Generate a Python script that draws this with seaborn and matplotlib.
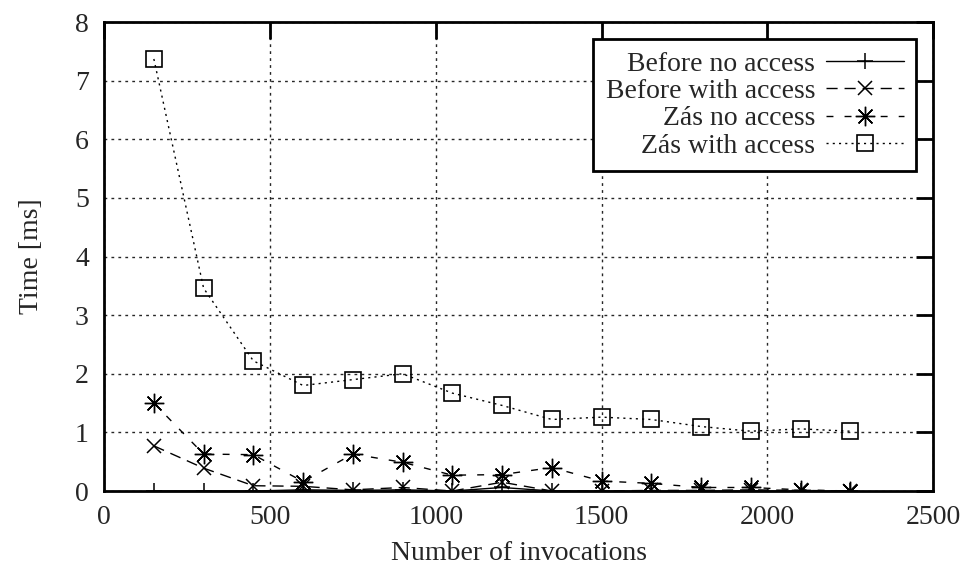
import numpy as np
import pandas as pd
import matplotlib
matplotlib.use("Agg")
import matplotlib.pyplot as plt
import seaborn as sns

# invocation counts (x axis)
invocations = [150, 300, 450, 600, 750, 900, 1050, 1200,
               1350, 1500, 1650, 1800, 1950, 2100, 2250]

# times in ms
before_no_access = [0.00, 0.00, 0.00, 0.02, 0.01, 0.02, 0.00, 0.06,
                    0.00, 0.00, 0.00, 0.00, 0.00, 0.00, 0.00]
before_with_access = [0.77, 0.39, 0.09, 0.08, 0.02, 0.06, 0.00, 0.15,
                      0.00, 0.00, 0.01, 0.01, 0.02, 0.01, 0.00]
zas_no_access = [1.50, 0.63, 0.62, 0.16, 0.63, 0.49, 0.27, 0.28,
                 0.40, 0.17, 0.13, 0.06, 0.06, 0.02, 0.00]
zas_with_access = [7.37, 3.46, 2.22, 1.80, 1.90, 2.00, 1.67, 1.46,
                   1.22, 1.26, 1.22, 1.10, 1.02, 1.06, 1.02]

labels = ["Before no access", "Before with access",
          "Zás no access", "Zás with access"]

FS = 20

sns.set_theme(style="white")
plt.rcParams['font.family'] = ['Liberation Serif', 'DejaVu Serif']
plt.rcParams['font.size'] = FS

fig, ax = plt.subplots(figsize=(9.64, 5.72), dpi=100)
fig.subplots_adjust(left=0.108, right=0.968, top=0.9615, bottom=0.1416)

series = [before_no_access, before_with_access, zas_no_access, zas_with_access]
styles = [
    dict(marker="+", linestyle="-", markersize=11, markeredgewidth=1.1),
    dict(marker="x", linestyle=(0, (8, 5)), markersize=10, markeredgewidth=1.1),
    dict(marker=(8, 2, 0), linestyle=(0, (5, 8)), markersize=14, markeredgewidth=1.0),
    dict(marker="s", linestyle=(0, (1.5, 3)), markersize=11, markeredgewidth=1.2),
]

for lab, vals, st in zip(labels, series, styles):
    df = pd.DataFrame({"x": invocations, "y": vals})
    sns.lineplot(data=df, x="x", y="y", ax=ax, label=lab, color="black",
                 linewidth=1.0, markeredgecolor="black", mfc="none", **st)

ax.set_xlim(0, 2500)
ax.set_ylim(0, 8)
ax.set_xticks(np.arange(0, 2501, 500))
ax.set_yticks(np.arange(0, 9, 1))
ax.set_xlabel("Number of invocations", fontsize=FS, labelpad=8)
ax.set_ylabel("Time [ms]", fontsize=FS, labelpad=22)

ax.tick_params(axis="both", direction="in", length=12, width=2,
               top=True, right=True, labelsize=FS, color="black")
ax.tick_params(axis="x", pad=10)
ax.tick_params(axis="y", pad=11)
for sp in ax.spines.values():
    sp.set_color("black")
    sp.set_linewidth(2)

ax.grid(True, color="0.15", linestyle=(0, (2, 3)), linewidth=1)
ax.set_axisbelow(True)

leg = ax.legend(loc="upper right", markerfirst=False, fancybox=False,
                framealpha=1, edgecolor="black", fontsize=FS,
                handlelength=2.8, handletextpad=0.4, borderaxespad=0.6,
                labelspacing=0.07, borderpad=0.45)
leg.get_frame().set_linewidth(2)

fig.savefig("out.png", dpi=100)
